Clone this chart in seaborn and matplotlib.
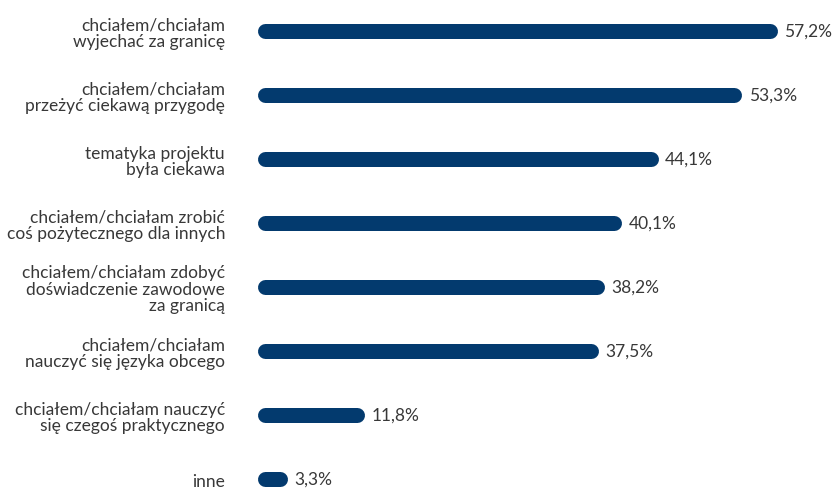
import matplotlib
matplotlib.use("Agg")
import matplotlib.pyplot as plt
import seaborn as sns
import pandas as pd

categories = [
    "chciałem/chciałam\nwyjechać za granicę",
    "chciałem/chciałam\nprzeżyć ciekawą przygodę",
    "tematyka projektu\nbyła ciekawa",
    "chciałem/chciałam zrobić\ncoś pożytecznego dla innych",
    "chciałem/chciałam zdobyć\ndoświadczenie zawodowe\nza granicą",
    "chciałem/chciałam\nnauczyć się języka obcego",
    "chciałem/chciałam nauczyć\nsię czegoś praktycznego",
    "inne",
]
values = [57.2, 53.3, 44.1, 40.1, 38.2, 37.5, 11.8, 3.3]
value_labels = ["57,2%", "53,3%", "44,1%", "40,1%", "38,2%", "37,5%", "11,8%", "3,3%"]

BAR = "#033a6e"
TXT = "#383838"

sns.set_theme(style="white")
plt.rcParams["font.family"] = ["Lato", "DejaVu Sans"]

df = pd.DataFrame({"cat": categories, "val": values})

fig = plt.figure(figsize=(8.35, 4.89), dpi=100)
ax = fig.add_axes([257 / 835, 0, (830 - 257) / 835, 1])
sns.barplot(data=df, x="val", y="cat", orient="h", color=BAR, width=0.234, ax=ax)
ax.set_xlim(0, 63)
ax.set_ylim(7.14, -0.5)

fig.canvas.draw()
# replace rectangular bars with round-capped lines of same extent
px_per_x = ax.transData.transform((1, 0))[0] - ax.transData.transform((0, 0))[0]
bar_px = 15
lw_pt = bar_px * 72 / fig.dpi
half_x = (bar_px / 2) / px_per_x
for p in list(ax.patches):
    x0 = p.get_x()
    x1 = x0 + p.get_width()
    yc = p.get_y() + p.get_height() / 2
    p.set_visible(False)
    ax.plot([x0 + half_x, x1 - half_x], [yc, yc], color=BAR, lw=lw_pt,
            solid_capstyle="round")

for i, (v, lab) in enumerate(zip(values, value_labels)):
    ax.annotate(lab, (v, i), xytext=(5, 0), textcoords="offset points",
                va="center", ha="left", fontsize=12.5, color=TXT)

ax.set_xlabel("")
ax.set_ylabel("")
ax.set_xticks([])
ax.tick_params(axis="y", length=0, pad=23)
for t in ax.get_yticklabels():
    t.set_fontsize(12.5)
    t.set_color(TXT)
    t.set_linespacing(1.05)
sns.despine(ax=ax, left=True, bottom=True)

fig.savefig("out.png", dpi=100)
